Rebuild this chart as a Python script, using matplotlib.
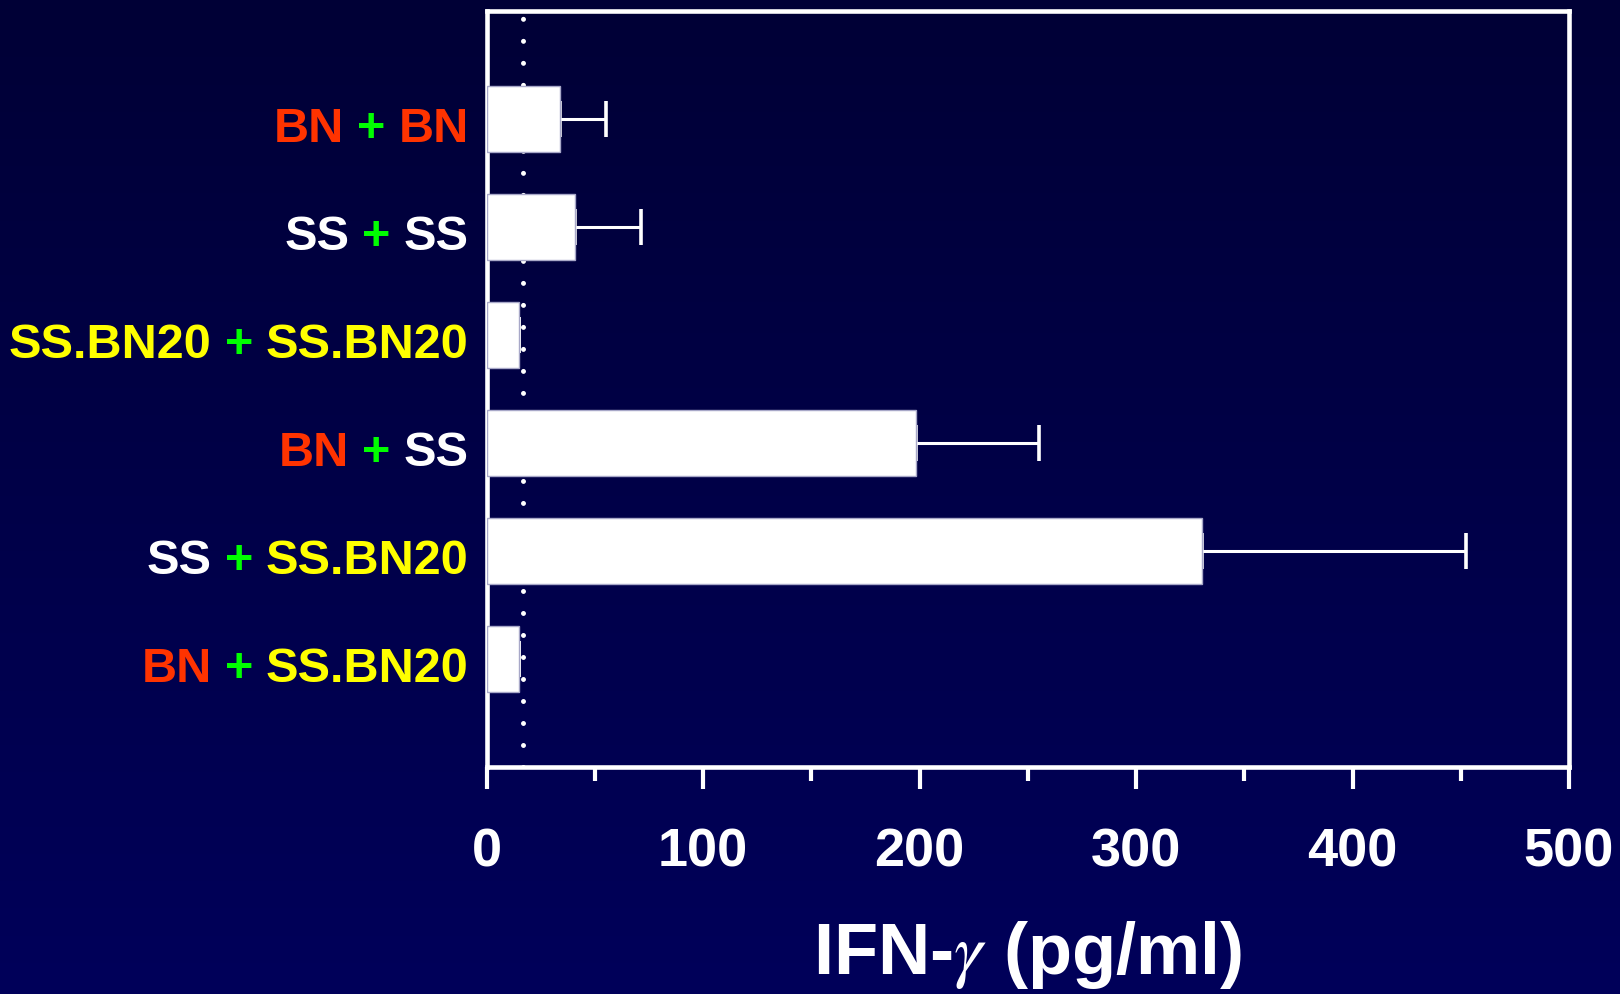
import matplotlib.pyplot as plt
import numpy as np
from matplotlib.colors import LinearSegmentedColormap

# data (top to bottom)
label_parts = [
    [("BN", "#ff3300"), ("+", "#00ff00"), ("BN", "#ff3300")],
    [("SS", "white"), ("+", "#00ff00"), ("SS", "white")],
    [("SS.BN20", "#ffff00"), ("+", "#00ff00"), ("SS.BN20", "#ffff00")],
    [("BN", "#ff3300"), ("+", "#00ff00"), ("SS", "white")],
    [("SS", "white"), ("+", "#00ff00"), ("SS.BN20", "#ffff00")],
    [("BN", "#ff3300"), ("+", "#00ff00"), ("SS.BN20", "#ffff00")],
]
ifn_mean = [33.8, 40.7, 14.8, 198.5, 330.7, 14.8]
ifn_err = [21.4, 30.5, 0, 56.8, 121.7, 0]
detection_limit = 17
xticks_major = [0, 100, 200, 300, 400, 500]
xticks_minor = [50, 150, 250, 350, 450]

plt.rcParams['font.family'] = ['Liberation Sans', 'DejaVu Sans']
plt.rcParams['mathtext.fontset'] = 'stix'

fig = plt.figure(figsize=(16.2, 9.95), dpi=100)

# background gradient
bg = fig.add_axes([0, 0, 1, 1], zorder=-10)
grad = np.linspace(0, 1, 256).reshape(-1, 1)
cmap = LinearSegmentedColormap.from_list("bg", ["#000036", "#000048", "#00005a"])
bg.imshow(grad, aspect='auto', cmap=cmap, extent=[0, 1, 0, 1], origin='upper')
bg.axis('off')

ax = fig.add_axes([0.3004, 0.2285, 0.6681, 0.7595])
ax.set_facecolor('none')

y = np.arange(len(ifn_mean))
ax.axvline(detection_limit, color='white', lw=3.6, linestyle=(0, (0.001, 4.4)),
           dash_capstyle='round', zorder=1)
ax.barh(y, ifn_mean, height=0.61, color='white', edgecolor='#a8a8c8', linewidth=1, zorder=3)
err = np.array(ifn_err)
ax.errorbar(ifn_mean, y, xerr=[np.zeros_like(err), err], fmt='none', ecolor='white',
            elinewidth=2.2, capsize=13, capthick=2.6, zorder=2)

ax.set_xlim(0, 500)
ax.set_ylim(6, -1)
for s in ax.spines.values():
    s.set_color('white')
    s.set_linewidth(3.3)

ax.set_xticks(xticks_major)
ax.set_xticks(xticks_minor, minor=True)
ax.tick_params(axis='x', which='major', length=16, width=3, color='white', pad=27,
               labelsize=39, labelcolor='white')
ax.tick_params(axis='x', which='minor', length=10, width=3, color='white')
for lab in ax.get_xticklabels():
    lab.set_fontweight('bold')
ax.set_yticks([])

ax.set_xlabel(r'IFN-$\gamma$ (pg/ml)', fontsize=52, fontweight='bold', color='white',
              labelpad=30)

# multi-coloured row labels, built right to left
renderer = fig.canvas.get_renderer()
gap = 13
for row, parts in enumerate(label_parts):
    cursor = 18
    for text, col in reversed(parts):
        t = ax.annotate(text, xy=(0, row), xycoords=('axes fraction', 'data'),
                        xytext=(-cursor, -22), textcoords='offset pixels',
                        ha='right', va='baseline', fontsize=35, fontweight='bold',
                        color=col, annotation_clip=False)
        cursor += t.get_window_extent(renderer).width + gap

fig.savefig('out.png', dpi=100)
